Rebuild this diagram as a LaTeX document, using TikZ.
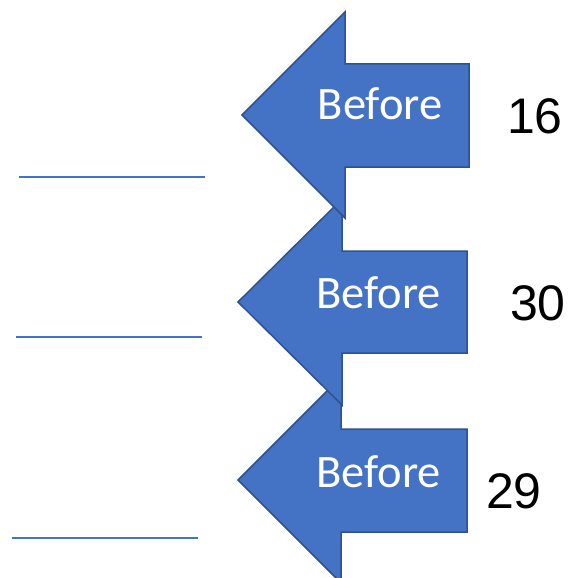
\documentclass[tikz,border=0pt]{standalone}
\usepackage{fontspec}
\setmainfont{Carlito}
\newfontfamily\numfont{Liberation Sans}
\definecolor{arrowfill}{HTML}{4472C4}
\definecolor{arrowedge}{HTML}{2F528F}
\begin{document}
\begin{tikzpicture}[x=1pt,y=-1pt,
  bigarrow/.style={fill=arrowfill,draw=arrowedge,line width=1.5pt,line join=miter},
  blank/.style={draw=arrowfill,line width=1.5pt},
  label/.style={text=white,font=\fontsize{46.5}{50}\selectfont,anchor=base,inner sep=0pt},
  num/.style={font=\numfont\fontsize{50}{54}\selectfont,anchor=center,inner sep=0pt}]
\useasboundingbox[fill=white] (0,0) rectangle (579,578);
% lines
\coordinate (l1a) at (19,177); \coordinate (l1b) at (205,177);
\coordinate (l2a) at (16,337); \coordinate (l2b) at (202,337);
\coordinate (l3a) at (12,538); \coordinate (l3b) at (198,538);
\draw[blank] (l1a) -- (l1b);
\draw[blank] (l2a) -- (l2b);
\draw[blank] (l3a) -- (l3b);
% arrows (bottom first)
\draw[bigarrow] (238,480) -- (341,377) -- (341,429) -- (467,429) -- (467,532) -- (341,532) -- (341,583) -- cycle;
\draw[bigarrow] (238,302) -- (342,199) -- (342,251) -- (467,251) -- (467,353) -- (342,353) -- (342,405) -- cycle;
\draw[bigarrow] (242,115) -- (345,12) -- (345,64) -- (469,64) -- (469,167) -- (345,167) -- (345,218) -- cycle;
% texts
\node[label] (t1) at (380,120) {Before};
\node[label] (t2) at (378.5,308) {Before};
\node[label] (t3) at (378.5,487) {Before};
\node[num] (n1) at (535,116) {16};
\node[num] (n2) at (538,303) {30};
\node[num] (n3) at (514,491) {29};
\end{tikzpicture}
\end{document}
